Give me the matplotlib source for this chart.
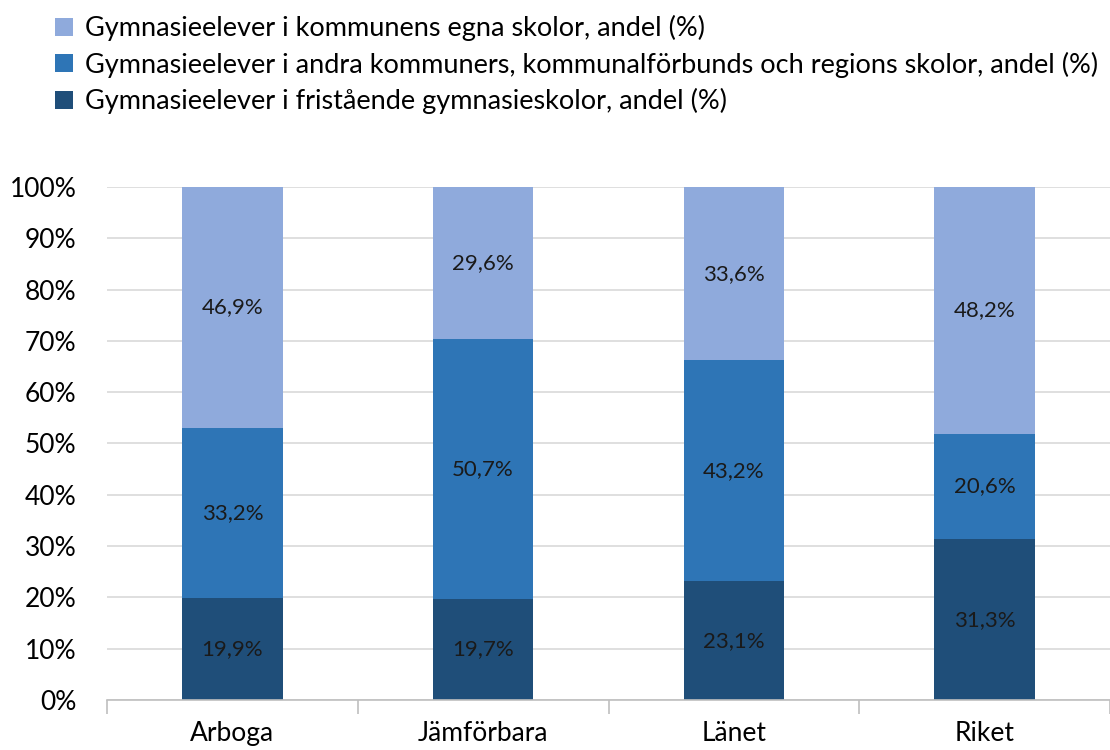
import numpy as np
import matplotlib.pyplot as plt
from matplotlib.patches import Patch

plt.rcParams['font.family'] = ['Lato', 'DejaVu Sans']

categories = ['Arboga', 'Jämförbara', 'Länet', 'Riket']
friskolor = [19.9, 19.7, 23.1, 31.3]
andra_kommuner = [33.2, 50.7, 43.2, 20.6]
egna_skolor = [46.9, 29.6, 33.6, 48.2]

series_names = [
    'Gymnasieelever i kommunens egna skolor, andel (%)',
    'Gymnasieelever i andra kommuners, kommunalförbunds och regions skolor, andel (%)',
    'Gymnasieelever i fristående gymnasieskolor, andel (%)',
]
colors = ['#8FAADC', '#2E75B6', '#1F4E79']


def fmt(v):
    return f'{v:.1f}%'.replace('.', ',')


def main():
    fig = plt.figure(figsize=(11.1, 7.5), dpi=100)
    ax = fig.add_axes([0.0964, 0.0667, 0.9036, 0.684])

    x = np.arange(len(categories))
    width = 0.4
    stacks = [friskolor, andra_kommuner, egna_skolor]
    stack_colors = [colors[2], colors[1], colors[0]]
    bottom = np.zeros(len(categories))
    for vals, col in zip(stacks, stack_colors):
        vals = np.array(vals)
        ax.bar(x, vals, width, bottom=bottom, color=col, zorder=2)
        for xi, b, v in zip(x, bottom, vals):
            ax.text(xi, b + v / 2, fmt(v), ha='center', va='center',
                    fontsize=16, color='#1a1a1a', zorder=3)
        bottom = bottom + vals

    ax.set_xlim(-0.5, len(categories) - 0.5)
    ax.set_ylim(0, 100)
    ax.set_yticks(np.arange(0, 101, 10))
    ax.set_yticklabels([f'{t}%' for t in range(0, 101, 10)])
    ax.yaxis.grid(True, color='#d9d9d9', linewidth=1.2, zorder=0)
    ax.set_axisbelow(True)

    ax.set_xticks(x)
    ax.set_xticklabels(categories)
    ax.set_xticks(np.arange(-0.5, len(categories), 1), minor=True)
    ax.tick_params(axis='x', which='major', length=0, pad=15, labelsize=19)
    ax.tick_params(axis='x', which='minor', length=10, color='#bfbfbf', width=1.2)
    ax.tick_params(axis='y', length=0, pad=22, labelsize=19)

    for side in ['top', 'right', 'left']:
        ax.spines[side].set_visible(False)
    ax.spines['bottom'].set_color('#bfbfbf')
    ax.spines['bottom'].set_linewidth(1.2)

    handles = [Patch(facecolor=c, label=n) for c, n in zip(colors, series_names)]
    fig.legend(handles=handles, loc='upper left', bbox_to_anchor=(0.028, 1.012),
               frameon=False, fontsize=19.5, handlelength=0.65, handleheight=0.65,
               handletextpad=0.45, labelspacing=0.38)

    fig.savefig('out.png', dpi=100)


if __name__ == "__main__":
    main()
